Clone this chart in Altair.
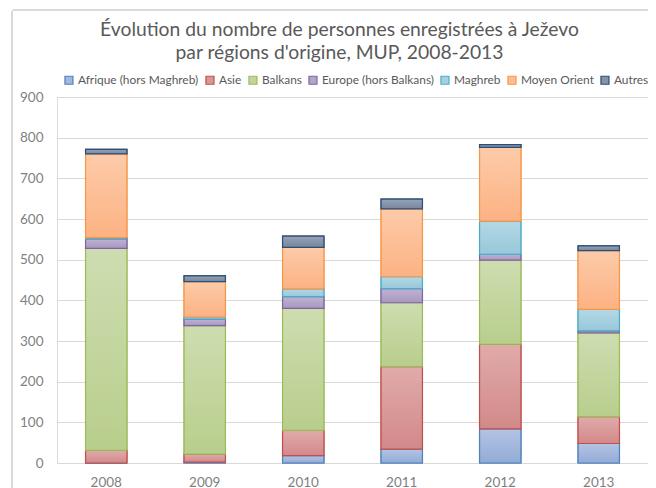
import altair as alt
import pandas as pd

years = ["2008", "2009", "2010", "2011", "2012", "2013"]
series = ["Afrique (hors Maghreb)", "Asie", "Balkans", "Europe (hors Balkans)",
          "Maghreb", "Moyen Orient", "Autres"]
afrique = [0, 2, 18, 34, 84, 48]
asie = [31, 20, 62, 203, 208, 66]
balkans = [497, 316, 300, 157, 207, 206]
europe = [23, 16, 29, 35, 14, 5]
maghreb = [3, 5, 19, 29, 82, 53]
moyen_orient = [206, 87, 102, 167, 181, 144]
autres = [11, 14, 28, 24, 7, 12]

values = [afrique, asie, balkans, europe, maghreb, moyen_orient, autres]

strokes = ["#4F81BD", "#C0504D", "#9BBB59", "#8064A2", "#4BACC6", "#F79646", "#2C4D75"]
fills = ["#A2B7DD", "#D99896", "#C3D59E", "#B3A4CA", "#A5D0DF", "#FDBE95", "#8593A8"]
grad_top = ["#B3C4E4", "#E0ABAA", "#CEDDB1", "#BFB3D3", "#B3D8E5", "#FDCBA9", "#97A3B6"]
grad_bot = ["#93ABD6", "#D3898A", "#B8CE8C", "#A898C1", "#98C8DA", "#FCB283", "#76869D"]

rows = []
for si, s in enumerate(series):
    for yi, y in enumerate(years):
        rows.append({"year": y, "series": s, "order": si, "value": values[si][yi]})
df = pd.DataFrame(rows)

FONT = "Lato"

x_enc = alt.X("year:N", sort=years, title=None,
              scale=alt.Scale(paddingInner=0.58, paddingOuter=0.29),
              axis=alt.Axis(labelAngle=0, ticks=False, domain=True, domainColor="#d9d9d9",
                            labelPadding=12, labelFontSize=13.5, labelColor="#7f7f7f",
                            labelFont=FONT, grid=False))
y_enc = alt.Y("y1:Q", title=None,
              scale=alt.Scale(domain=[0, 900], nice=False),
              axis=alt.Axis(values=list(range(0, 1000, 100)), ticks=False, domain=False,
                            grid=True, gridColor="#d9d9d9", gridWidth=1,
                            labelPadding=14, labelFontSize=13.5, labelColor="#7f7f7f",
                            labelFont=FONT))

base = alt.Chart(df).transform_stack(
    stack="value", groupby=["year"], as_=["y0", "y1"],
    sort=[alt.SortField("order", order="ascending")]
)

legend_layer = base.mark_bar(strokeWidth=1.2).encode(
    x=x_enc,
    y=y_enc,
    y2="y0:Q",
    fill=alt.Fill("series:N", scale=alt.Scale(domain=series, range=fills),
                  legend=alt.Legend(title=None, orient="none", direction="horizontal",
                                    columns=7, legendX=6, legendY=-23,
                                    symbolType="square", symbolSize=64,
                                    symbolStrokeWidth=1.2, labelOffset=3,
                                    columnPadding=4, labelFont=FONT,
                                    labelFontSize=11.9, labelColor="#595959")),
    stroke=alt.Stroke("series:N", scale=alt.Scale(domain=series, range=strokes)),
)

layers = [legend_layer]
for si, s in enumerate(series):
    grad = alt.LinearGradient(
        gradient="linear", x1=0, x2=0, y1=0, y2=1,
        stops=[alt.GradientStop(offset=0, color=grad_top[si]),
               alt.GradientStop(offset=1, color=grad_bot[si])])
    layers.append(
        base.transform_filter(alt.datum.series == s)
        .mark_bar(fill=grad, stroke=strokes[si], strokeWidth=1.2)
        .encode(x=x_enc, y=y_enc, y2="y0:Q")
    )

frame = alt.Chart(df).mark_rect(fill=None, stroke="#d9d9d9", strokeWidth=1,
                                cornerRadius=3).encode(
    x=alt.value(-45), x2=alt.value(700), y=alt.value(-87), y2=alt.value(500)
)

chart = alt.layer(frame, *layers).properties(
    width=591, height=366,
    title=alt.TitleParams(
        text=["Évolution  du nombre de personnes  enregistrées  à Ježevo",
              "par régions d'origine, MUP, 2008-2013"],
        font=FONT, fontSize=19.3, fontWeight="normal", color="#595959",
        anchor="middle", frame="group", dx=-13, dy=91, offset=37, lineHeight=23),
    autosize=alt.AutoSizeParams(type="none"),
    padding={"left": 49, "top": 89, "right": 0, "bottom": 25},
).configure_view(stroke=None).configure(background="white")

chart.save("out.html", embed_options={"renderer": "svg", "actions": False})
